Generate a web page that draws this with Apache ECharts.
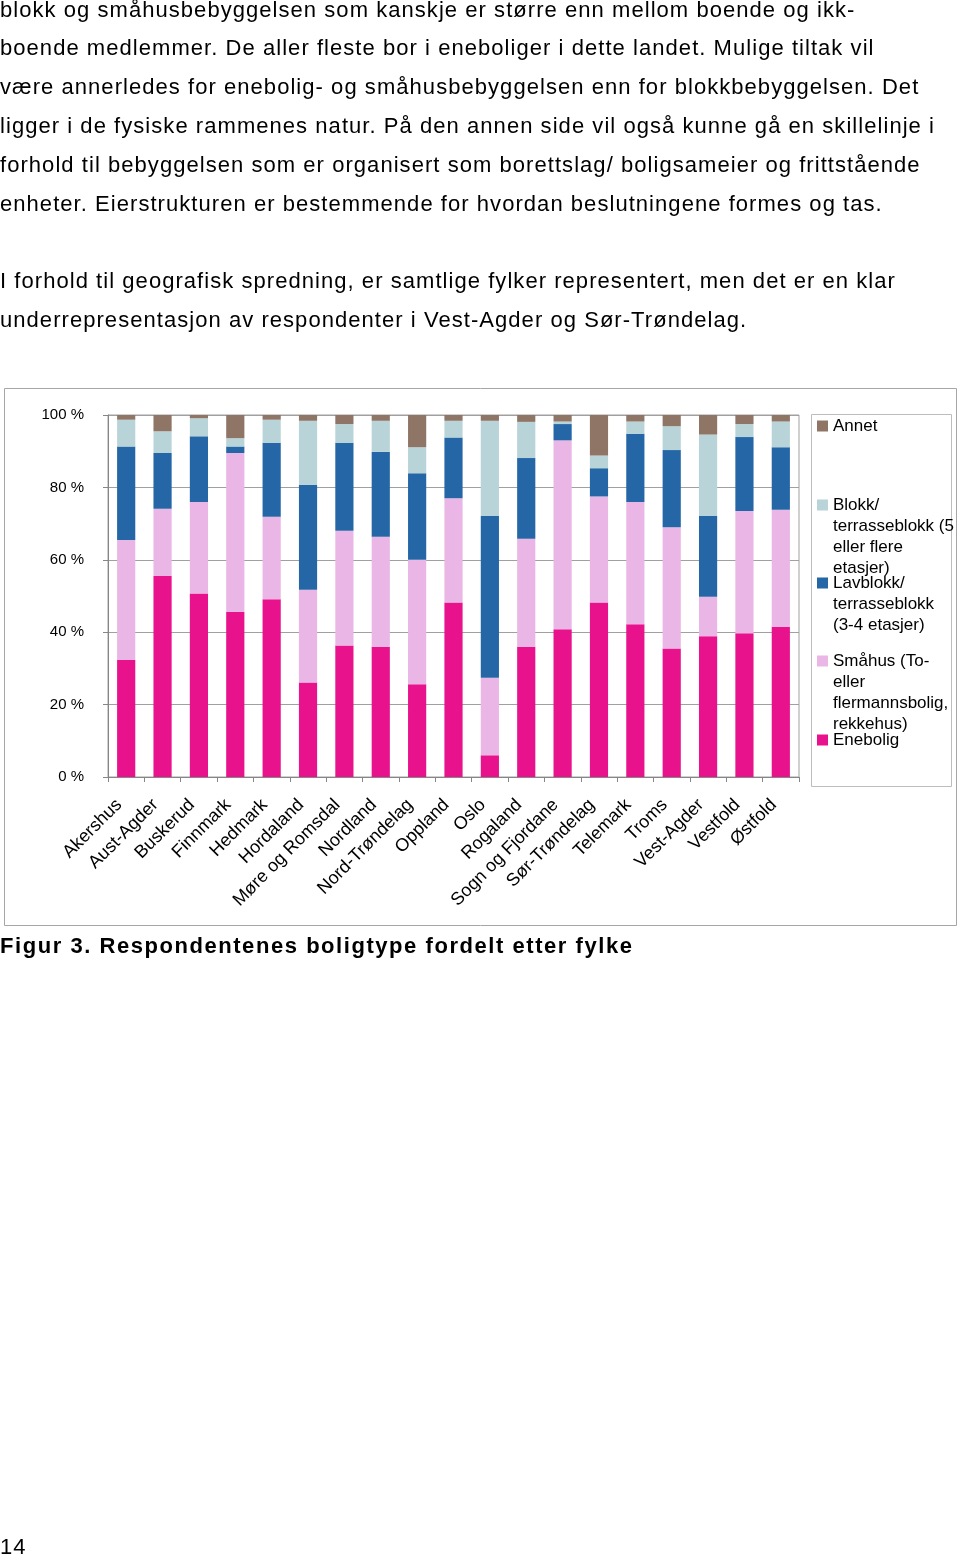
<!DOCTYPE html>
<html>
<head>
<meta charset="utf-8">
<script src="https://cdn.jsdelivr.net/npm/echarts@6/dist/echarts.min.js"></script>
<style>
  html, body { margin: 0; padding: 0; background: #fff; }
  body { width: 960px; height: 1556px; position: relative; overflow: hidden; }
  #chart { position: absolute; left: 0; top: 0; width: 960px; height: 1556px; }
  .line {
    position: absolute; left: 0; white-space: nowrap;
    font-family: "Liberation Sans", Arial, sans-serif;
    font-size: 22px; letter-spacing: 1.05px; color: #000; z-index: 2;
    line-height: 24px;
  }
  .caption { font-weight: bold; letter-spacing: 1.55px; }
</style>
</head>
<body>
<div id="chart"></div>
<div class="line" style="top:-2px">blokk og småhusbebyggelsen som kanskje er større enn mellom boende og ikk-</div>
<div class="line" style="top:36px">boende medlemmer. De aller fleste bor i eneboliger i dette landet. Mulige tiltak vil</div>
<div class="line" style="top:75px">være annerledes for enebolig- og småhusbebyggelsen enn for blokkbebyggelsen. Det</div>
<div class="line" style="top:114px">ligger i de fysiske rammenes natur. På den annen side vil også kunne gå en skillelinje i</div>
<div class="line" style="top:153px">forhold til bebyggelsen som er organisert som borettslag/ boligsameier og frittstående</div>
<div class="line" style="top:192px">enheter. Eierstrukturen er bestemmende for hvordan beslutningene formes og tas.</div>
<div class="line" style="top:269px">I forhold til geografisk spredning, er samtlige fylker representert, men det er en klar</div>
<div class="line" style="top:308px">underrepresentasjon av respondenter i Vest-Agder og Sør-Trøndelag.</div>
<div class="line caption" style="top:934px">Figur 3. Respondentenes boligtype fordelt etter fylke</div>
<div class="line" style="top:1535px">14</div>
<script>
// fylker
const fylker = ["Akershus", "Aust-Agder", "Buskerud", "Finnmark", "Hedmark", "Hordaland",
  "Møre og Romsdal", "Nordland", "Nord-Trøndelag", "Oppland", "Oslo", "Rogaland",
  "Sogn og Fjordane", "Sør-Trøndelag", "Telemark", "Troms", "Vest-Agder", "Vestfold", "Østfold"];

// andeler i prosent, lest av figuren
const enebolig = [32.3, 55.5, 50.7, 45.6, 49.1, 26.1, 36.3, 36.0, 25.6, 48.2, 6.0, 36.0, 40.8, 48.2, 42.2, 35.5, 38.9, 39.7, 41.5];
const smahus   = [33.2, 18.6, 25.3, 43.9, 22.8, 25.6, 31.7, 30.4, 34.4, 28.8, 21.4, 29.8, 52.2, 29.3, 33.8, 33.5, 10.9, 33.8, 32.3];
const lavblokk = [25.8, 15.4, 18.1, 1.8, 20.4, 29.0, 24.3, 23.4, 23.9, 16.8, 44.7, 22.3, 4.5, 7.8, 18.8, 21.3, 22.3, 20.4, 17.3];
const blokk    = [7.4, 6.0, 5.0, 2.3, 6.4, 17.7, 5.2, 8.6, 7.2, 4.6, 26.3, 10.0, 0.7, 3.5, 3.4, 6.6, 22.5, 3.6, 7.1];
const annet    = [1.3, 4.5, 0.9, 6.4, 1.3, 1.6, 2.5, 1.6, 8.9, 1.6, 1.6, 1.9, 1.8, 11.2, 1.8, 3.1, 5.4, 2.5, 1.8];

const yTicks = [0, 20, 40, 60, 80, 100];

const names = {
  enebolig: "Enebolig",
  smahus: "Småhus (To- eller flermannsbolig, rekkehus)",
  lavblokk: "Lavblokk/ terrasseblokk (3-4 etasjer)",
  blokk: "Blokk/ terrasseblokk (5 eller flere etasjer)",
  annet: "Annet",
};
// linjeskift i tegnforklaringen
const legendText = {};
legendText[names.enebolig] = "Enebolig";
legendText[names.smahus] = "Småhus (To-\neller\nflermannsbolig,\nrekkehus)";
legendText[names.lavblokk] = "Lavblokk/\nterrasseblokk\n(3-4 etasjer)";
legendText[names.blokk] = "Blokk/\nterrasseblokk (5\neller flere\netasjer)";
legendText[names.annet] = "Annet";

const colors = {
  enebolig: "#e8138c",
  smahus: "#eab6e5",
  lavblokk: "#2466a6",
  blokk: "#b8d4d8",
  annet: "#8e7566",
};

const FONT = '"Liberation Sans", Arial, sans-serif';
const LH = 21;   // linjehøyde i tegnforklaringen
const ICON = 11;

// ikonet står ved første tekstlinje: usynlig punkt nederst strekker symbolboksen
function makeLegend(name, iconCenter) {
  const n = legendText[name].split("\n").length;
  const h = LH * (n - 1) + ICON;
  const icon = n > 1
    ? "path://M0,0L" + ICON + ",0L" + ICON + "," + ICON + "L0," + ICON + "Z M0," + h + "L0.01," + h
    : "rect";
  return {
    data: [name],
    left: 817,
    top: iconCenter - LH / 2,
    padding: 0,
    orient: "vertical",
    icon: icon,
    itemWidth: ICON,
    itemHeight: h,
    itemGap: 0,
    selectedMode: false,
    formatter: (nm) => legendText[nm],
    textStyle: {
      fontFamily: FONT,
      fontSize: 17,
      color: "#000",
      lineHeight: LH,
    },
  };
}

function barSeries(key, data) {
  return {
    name: names[key],
    type: "bar",
    stack: "total",
    barWidth: "50%",
    data: data,
    itemStyle: { color: colors[key] },
    emphasis: { disabled: true },
  };
}

const chart = echarts.init(document.getElementById("chart"));
const option = {
  animation: false,
  textStyle: { fontFamily: FONT },
  graphic: [
    {
      type: "rect",
      shape: { x: 4.5, y: 388.5, width: 952, height: 537 },
      style: { fill: null, stroke: "#a6a6a6", lineWidth: 1 },
      silent: true,
    },
    {
      type: "rect",
      shape: { x: 811.5, y: 414.5, width: 140, height: 372 },
      style: { fill: null, stroke: "#bdbdbd", lineWidth: 1 },
      silent: true,
    },
  ],
  legend: [
    makeLegend(names.annet, 426),
    makeLegend(names.blokk, 505),
    makeLegend(names.lavblokk, 583),
    makeLegend(names.smahus, 661),
    makeLegend(names.enebolig, 740),
  ],
  grid: {
    left: 108,
    right: 161,
    top: 415,
    bottom: 1556 - 777,
    show: true,
    borderColor: "#a0a0a0",
    borderWidth: 1,
  },
  xAxis: {
    type: "category",
    data: fylker,
    axisLine: { lineStyle: { color: "#868686" } },
    axisTick: { show: true, length: 5, lineStyle: { color: "#868686" } },
    axisLabel: {
      interval: 0,
      rotate: 45,
      margin: 18,
      padding: [0, 10, 0, 0],
      fontSize: 18,
      color: "#000",
      fontFamily: FONT,
    },
  },
  yAxis: {
    type: "value",
    min: yTicks[0],
    max: yTicks[yTicks.length - 1],
    interval: 20,
    axisLine: { show: true, lineStyle: { color: "#868686" } },
    axisTick: { show: true, length: 5, lineStyle: { color: "#868686" } },
    splitLine: { lineStyle: { color: "#a0a0a0" } },
    axisLabel: {
      formatter: "{value} %",
      fontSize: 15,
      color: "#000",
      margin: 24,
      fontFamily: FONT,
    },
  },
  series: [
    barSeries("enebolig", enebolig),
    barSeries("smahus", smahus),
    barSeries("lavblokk", lavblokk),
    barSeries("blokk", blokk),
    barSeries("annet", annet),
  ],
};
chart.setOption(option);
</script>
</body>
</html>
